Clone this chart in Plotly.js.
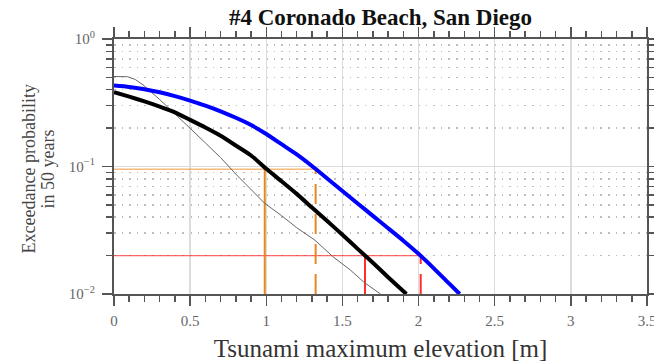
<!DOCTYPE html>
<html>
<head>
<meta charset="utf-8">
<script src="https://cdn.plot.ly/plotly-3.0.1.min.js"></script>
<style>html,body{margin:0;padding:0;background:#fff;}#chart{width:654px;height:362px;}</style>
</head>
<body>
<div id="chart"></div>
<script>
// ---- data ----
const blackX = [0,0.1,0.2,0.3,0.4,0.5,0.6,0.7,0.8,0.9,1.0,1.1,1.2,1.3,1.4,1.5,1.6,1.7,1.8,1.92];
const blackP = [0.383,0.353,0.324,0.295,0.266,0.232,0.202,0.174,0.146,0.122,0.0959,0.0767,0.0610,0.0476,0.0373,0.0292,0.0226,0.0176,0.01355,0.0100];

const blueX = [0,0.1,0.2,0.3,0.4,0.5,0.6,0.7,0.8,0.9,1.0,1.1,1.2,1.3,1.4,1.5,1.6,1.7,1.8,1.9,2.0,2.1,2.2,2.27];
const blueP = [0.4315,0.4207,0.4036,0.3819,0.3565,0.3289,0.3006,0.2710,0.2410,0.2113,0.1799,0.1496,0.1245,0.1009,0.0805,0.0643,0.0513,0.0410,0.0328,0.0262,0.02065,0.0159,0.0121,0.0100];

const grayX = [0,0.09,0.14,0.19,0.3,0.4,0.5,0.6,0.7,0.8,0.9,0.99,1.1,1.2,1.32,1.44,1.55,1.64,1.75];
const grayP = [0.508,0.506,0.481,0.4375,0.335,0.260,0.1995,0.1531,0.1175,0.0871,0.0661,0.0514,0.0412,0.0331,0.0264,0.0195,0.0155,0.0124,0.0100];

// exceedance levels (500-yr and 2475-yr return periods in 50 years)
const level500 = 0.0952;
const level2475 = 0.0200;
// elevations where the curves cross those levels
const black500 = 0.99, blue500 = 1.324;
const black2475 = 1.648, blue2475 = 2.014;

const yMin = 0.01;
const yTickVals = [0.01, 0.1, 1];
const yTickText = ['10<sup>\u22122</sup>', '10<sup>\u22121</sup>', '10<sup>0</sup>'];
const yMinorVals = [0.02,0.03,0.04,0.05,0.06,0.07,0.08,0.09,0.2,0.3,0.4,0.5,0.6,0.7,0.8,0.9];

const titleText = '<b>#4 Coronado Beach, San Diego</b>';
const xTitle = 'Tsunami maximum elevation [m]';
const yTitle1 = 'Exceedance probability';
const yTitle2 = 'in 50 years';

// ---- styles ----
const FONT = '"Liberation Serif", "DejaVu Serif", serif';
const ORANGE = '#e6881e';
const ORANGE_L = 'rgba(236,140,40,0.6)';
const RED = '#ff2a2a';
const RED_L = 'rgba(255,40,40,0.7)';
const AX = '#555555';

function seg(x, y, color, width, dash) {
  return {x: x, y: y, type: 'scatter', mode: 'lines', hoverinfo: 'skip',
          line: {color: color, width: width, dash: dash || 'solid'}};
}

const traces = [
  seg([0, blue500], [level500, level500], ORANGE_L, 1.5),
  seg([0, blue2475], [level2475, level2475], RED_L, 1.3),
  seg([black500, black500], [yMin, level500], ORANGE, 2),
  seg([blue500, blue500], [yMin, level500], ORANGE, 2, '20px,10px'),
  seg([black2475, black2475], [yMin, level2475], RED, 2),
  seg([blue2475, blue2475], [yMin, level2475], RED, 2, '20px,10px'),
  {x: grayX, y: grayP, type: 'scatter', mode: 'lines', line: {color: '#666666', width: 1}},
  {x: blackX, y: blackP, type: 'scatter', mode: 'lines', line: {color: '#000000', width: 4, shape: 'spline', smoothing: 0.6}},
  {x: blueX, y: blueP, type: 'scatter', mode: 'lines', line: {color: '#0000ff', width: 4, shape: 'spline', smoothing: 0.6}}
];

const layout = {
  width: 654, height: 362,
  margin: {l: 114, r: 7, t: 39, b: 68, pad: 0},
  paper_bgcolor: '#ffffff', plot_bgcolor: '#ffffff',
  showlegend: false,
  font: {family: FONT, color: '#333'},
  title: {text: titleText, x: 0.5, xref: 'paper', xanchor: 'center',
          y: 1 - 17/362, yref: 'container', yanchor: 'middle',
          font: {family: FONT, size: 23, color: '#111'}},
  xaxis: {
    range: [0, 3.5], tickmode: 'linear', tick0: 0, dtick: 0.5,
    ticks: 'outside', ticklen: 10, tickwidth: 1.5, tickcolor: AX,
    showline: true, linecolor: AX, linewidth: 2, mirror: 'allticks',
    showgrid: true, gridcolor: '#dcdcdc', gridwidth: 1.5, zeroline: false,
    tickfont: {family: FONT, size: 15, color: '#666'},
    ticklabelstandoff: 2, ticklabeloverflow: 'allow',
    minor: {dtick: 0.1, tick0: 0, ticks: 'outside', ticklen: 6, tickwidth: 1.5, tickcolor: AX, showgrid: false},
    title: {text: xTitle, font: {family: FONT, size: 25, color: '#333'}, standoff: 14}
  },
  yaxis: {
    type: 'log', range: [-2, 0],
    tickmode: 'array', tickvals: yTickVals, ticktext: yTickText,
    ticks: 'outside', ticklen: 10, tickwidth: 1.5, tickcolor: AX,
    showline: true, linecolor: AX, linewidth: 2, mirror: 'allticks',
    showgrid: true, gridcolor: '#dcdcdc', gridwidth: 1.5, zeroline: false,
    tickfont: {family: FONT, size: 15, color: '#666'},
    ticklabelstandoff: 4,
    minor: {tickmode: 'array', tickvals: yMinorVals, ticks: 'outside', ticklen: 6, tickwidth: 1.5, tickcolor: AX,
            showgrid: true, gridcolor: '#bdbdbd', gridwidth: 1.5, griddash: '1.5px,6.1px'}
  },
  annotations: [
    {text: yTitle1, xref: 'paper', yref: 'paper', x: 0, y: 0.5, xanchor: 'center', yanchor: 'middle',
     xshift: -86, yshift: -3, textangle: -90, showarrow: false, font: {family: FONT, size: 18, color: '#444'}},
    {text: yTitle2, xref: 'paper', yref: 'paper', x: 0, y: 0.5, xanchor: 'center', yanchor: 'middle',
     xshift: -67, yshift: -3, textangle: -90, showarrow: false, font: {family: FONT, size: 18, color: '#444'}}
  ]
};

Plotly.newPlot('chart', traces, layout, {staticPlot: true, displayModeBar: false});
</script>
</body>
</html>
